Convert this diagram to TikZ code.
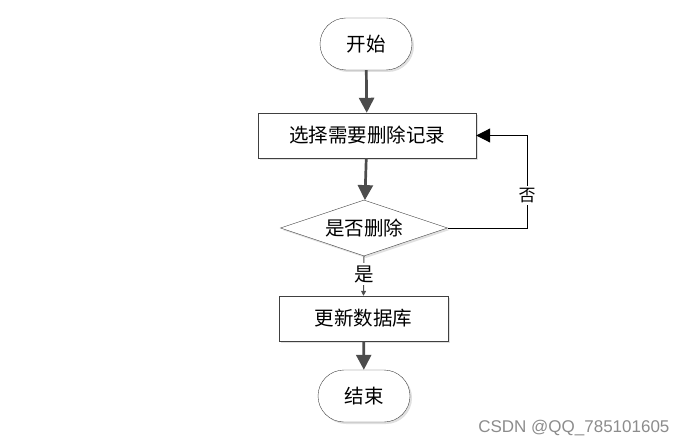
\documentclass[tikz,border=0pt]{standalone}
\usepackage{fontspec}
\newfontfamily\cjk{Noto Sans CJK SC}
\newfontfamily\wm{Liberation Sans}
\usetikzlibrary{shapes.geometric,shapes.misc,arrows.meta,shadows}

\begin{document}
\begin{tikzpicture}
  [x=1pt,y=-1pt,font=\cjk\fontsize{19.5}{22}\selectfont,
   shape box/.style={draw=black!75,fill=white,inner sep=0pt,
     drop shadow={shadow xshift=2pt,shadow yshift=-2pt,fill=black!12,opacity=1}},
   term/.style={shape box,rounded rectangle,minimum width=92pt,minimum height=52pt},
   proc/.style={shape box,rectangle,minimum height=45pt},
   cond/.style={shape box,diamond,aspect=3,minimum width=167pt,minimum height=56pt},
   flow/.style={line width=2.7pt,draw=black!70,-{Triangle[length=15pt,width=15pt]}},
   tag/.style={fill=white,inner sep=2pt}]
  \useasboundingbox (0,0) rectangle (687,446);
  \node[term] (start) at (366,44) {开始};
  \node[proc,minimum width=218pt] (pick) at (367,135.5) {选择需要删除记录};
  \node[cond] (ask) at (364,228) {是否删除};
  \node[proc,minimum width=169pt] (save) at (363.5,318.5) {更新数据库};
  \node[term] (stop) at (364,396) {结束};
  \foreach \from/\to in {start/pick,pick/ask,save/stop}
    \draw[flow] (\from) -- (\to);
  \draw[line width=1pt,-{Triangle[length=5pt,width=5pt]},draw=black!70]
    (ask.south) -- node[tag,pos=0.45] {是} (save.north);
  \coordinate (turn) at (527,228);
  \draw[line width=1pt,-{Triangle[length=14pt,width=14pt]}]
    (ask.east) -- (turn) -- node[tag,pos=0.35,font=\cjk\fontsize{17}{20}\selectfont] {否}
    (turn |- pick.east) -- (pick.east);
  \node[font=\wm\fontsize{17}{20}\selectfont,text=black!45,anchor=east]
    (mark) at (673,428) {CSDN @QQ\_785101605};
\end{tikzpicture}
\end{document}
